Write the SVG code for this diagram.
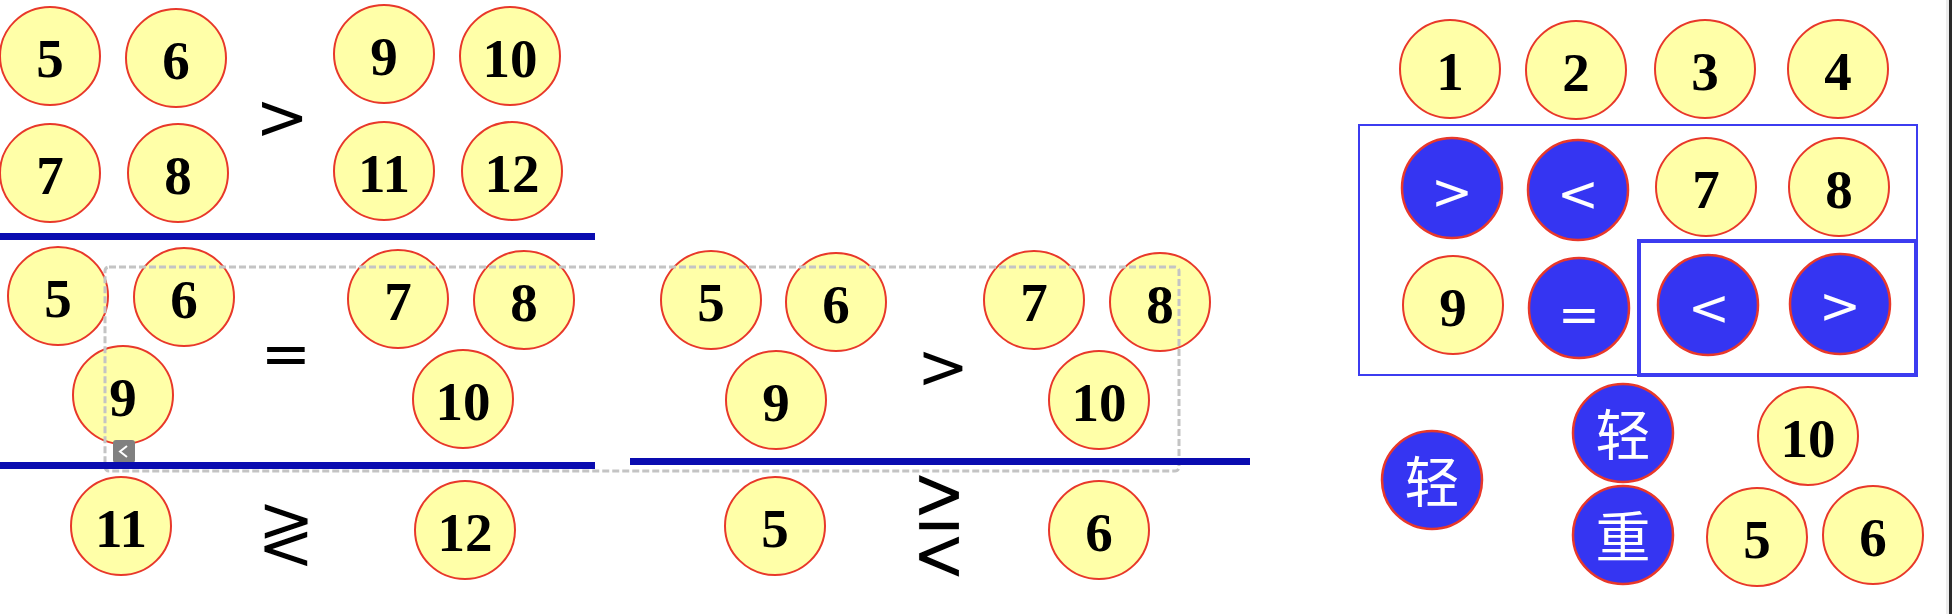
<svg xmlns="http://www.w3.org/2000/svg" width="1952" height="614" viewBox="0 0 1952 614">
<style>
.y{fill:#ffffa8;stroke:#e8382a;stroke-width:2}
.b{fill:#3535f2;stroke:#e8382a;stroke-width:2.5}
.n{font-family:"Liberation Serif","Times New Roman",serif;font-weight:bold;font-size:55px;fill:#000;text-anchor:middle}
.w{font-family:"DejaVu Sans",sans-serif;font-size:50px;fill:#fff;text-anchor:middle}
.c{font-family:"Noto Sans CJK SC","Noto Sans",sans-serif;font-size:55px;fill:#fff;text-anchor:middle}
.s{font-family:"DejaVu Sans",sans-serif;fill:#000;text-anchor:middle}
.t{stroke:#fff;stroke-width:1.5}
.rule{fill:#0a0cb0}
</style>
<rect width="1952" height="614" fill="#fff"/>

<g id="section1">
<g id="s1-5"><ellipse class="y" cx="50" cy="56" rx="50" ry="49"/><text class="n" x="50" y="77">5</text></g>
<g id="s1-6"><ellipse class="y" cx="176" cy="58" rx="50" ry="49"/><text class="n" x="176" y="79">6</text></g>
<g id="s1-9"><ellipse class="y" cx="384" cy="54" rx="50" ry="49"/><text class="n" x="384" y="75">9</text></g>
<g id="s1-10"><ellipse class="y" cx="510" cy="56" rx="50" ry="49"/><text class="n" x="510" y="77">10</text></g>
<g id="s1-7"><ellipse class="y" cx="50" cy="173" rx="50" ry="49"/><text class="n" x="50" y="194">7</text></g>
<g id="s1-8"><ellipse class="y" cx="178" cy="173" rx="50" ry="49"/><text class="n" x="178" y="194">8</text></g>
<g id="s1-11"><ellipse class="y" cx="384" cy="171" rx="50" ry="49"/><text class="n" x="384" y="192">11</text></g>
<g id="s1-12"><ellipse class="y" cx="512" cy="171" rx="50" ry="49"/><text class="n" x="512" y="192">12</text></g>
<g id="s1-gt"><text class="s" x="282" y="139" font-size="64">&gt;</text></g>
</g>

<g id="section2-left">
<g id="s2a-5"><ellipse class="y" cx="58" cy="296" rx="50" ry="49"/><text class="n" x="58" y="317">5</text></g>
<g id="s2a-6"><ellipse class="y" cx="184" cy="297" rx="50" ry="49"/><text class="n" x="184" y="318">6</text></g>
<g id="s2a-9"><ellipse class="y" cx="123" cy="395" rx="50" ry="49"/><text class="n" x="123" y="416">9</text></g>
<g id="s2a-7"><ellipse class="y" cx="398" cy="299" rx="50" ry="49"/><text class="n" x="398" y="320">7</text></g>
<g id="s2a-8"><ellipse class="y" cx="524" cy="300" rx="50" ry="49"/><text class="n" x="524" y="321">8</text></g>
<g id="s2a-10"><ellipse class="y" cx="463" cy="399" rx="50" ry="49"/><text class="n" x="463" y="420">10</text></g>
<g id="s2a-11"><ellipse class="y" cx="121" cy="526" rx="50" ry="49"/><text class="n" x="121" y="547">11</text></g>
<g id="s2a-12"><ellipse class="y" cx="465" cy="530" rx="50" ry="49"/><text class="n" x="465" y="551">12</text></g>
<g id="s2a-eq"><text class="s" x="286" y="374" font-size="60">=</text></g>
<g id="s2a-gl"><text class="s t" transform="translate(286,560) scale(0.85,1)" x="0" y="0" font-size="83">≷</text></g>
</g>

<g id="section2-right">
<g id="s2b-5"><ellipse class="y" cx="711" cy="300" rx="50" ry="49"/><text class="n" x="711" y="321">5</text></g>
<g id="s2b-6"><ellipse class="y" cx="836" cy="302" rx="50" ry="49"/><text class="n" x="836" y="323">6</text></g>
<g id="s2b-9"><ellipse class="y" cx="776" cy="400" rx="50" ry="49"/><text class="n" x="776" y="421">9</text></g>
<g id="s2b-7"><ellipse class="y" cx="1034" cy="300" rx="50" ry="49"/><text class="n" x="1034" y="321">7</text></g>
<g id="s2b-8"><ellipse class="y" cx="1160" cy="302" rx="50" ry="49"/><text class="n" x="1160" y="323">8</text></g>
<g id="s2b-10"><ellipse class="y" cx="1099" cy="400" rx="50" ry="49"/><text class="n" x="1099" y="421">10</text></g>
<g id="s2b-b5"><ellipse class="y" cx="775" cy="526" rx="50" ry="49"/><text class="n" x="775" y="547">5</text></g>
<g id="s2b-b6"><ellipse class="y" cx="1099" cy="530" rx="50" ry="49"/><text class="n" x="1099" y="551">6</text></g>
<g id="s2b-gt"><text class="s" x="943" y="388" font-size="62">&gt;</text></g>
<g id="s2b-gel"><text class="s t" transform="translate(939,556) scale(0.68,1)" x="0" y="0" font-size="96">⋛</text></g>
</g>

<g id="selection">
<rect x="105" y="267" width="1074" height="204" rx="4" fill="none" stroke="#c4c4c4" stroke-width="3" stroke-dasharray="7 3"/>
<rect x="113" y="440" width="22" height="23" rx="3" fill="#808080"/>
<polyline points="127,446 120,451.5 127,457" fill="none" stroke="#fff" stroke-width="2"/>
</g>

<g id="connectors">
<rect class="rule" x="0" y="233" width="595" height="7"/>
<rect class="rule" x="0" y="462" width="595" height="7"/>
<rect class="rule" x="630" y="458" width="620" height="7"/>
</g>

<g id="panel">
<rect x="1359" y="125" width="558" height="250" fill="none" stroke="#3c3cf0" stroke-width="2"/>
<rect x="1639" y="241" width="277" height="134" fill="none" stroke="#3c3cf0" stroke-width="4"/>
<g id="p-1"><ellipse class="y" cx="1450" cy="69" rx="50" ry="49"/><text class="n" x="1450" y="90">1</text></g>
<g id="p-2"><ellipse class="y" cx="1576" cy="70" rx="50" ry="49"/><text class="n" x="1576" y="91">2</text></g>
<g id="p-3"><ellipse class="y" cx="1705" cy="69" rx="50" ry="49"/><text class="n" x="1705" y="90">3</text></g>
<g id="p-4"><ellipse class="y" cx="1838" cy="69" rx="50" ry="49"/><text class="n" x="1838" y="90">4</text></g>
<g id="p-gt1"><ellipse class="b" cx="1452" cy="188" rx="50" ry="50"/><text class="w" x="1452" y="209">&gt;</text></g>
<g id="p-lt1"><ellipse class="b" cx="1578" cy="190" rx="50" ry="50"/><text class="w" x="1578" y="211">&lt;</text></g>
<g id="p-7"><ellipse class="y" cx="1706" cy="187" rx="50" ry="49"/><text class="n" x="1706" y="208">7</text></g>
<g id="p-8"><ellipse class="y" cx="1839" cy="187" rx="50" ry="49"/><text class="n" x="1839" y="208">8</text></g>
<g id="p-9"><ellipse class="y" cx="1453" cy="305" rx="50" ry="49"/><text class="n" x="1453" y="326">9</text></g>
<g id="p-eq"><ellipse class="b" cx="1579" cy="308" rx="50" ry="50"/><text class="w" x="1579" y="332" font-size="65">=</text></g>
<g id="p-lt2"><ellipse class="b" cx="1708" cy="305" rx="50" ry="50"/><text class="w" x="1709" y="325">&lt;</text></g>
<g id="p-gt2"><ellipse class="b" cx="1840" cy="304" rx="50" ry="50"/><text class="w" x="1840" y="323">&gt;</text></g>
<g id="p-light1"><ellipse class="b" cx="1432" cy="480" rx="50" ry="49"/><text class="c" x="1432" y="502">轻</text></g>
<g id="p-light2"><ellipse class="b" cx="1623" cy="433" rx="50" ry="49"/><text class="c" x="1623" y="455">轻</text></g>
<g id="p-heavy"><ellipse class="b" cx="1623" cy="535" rx="50" ry="49"/><text class="c" x="1623" y="557">重</text></g>
<g id="p-10"><ellipse class="y" cx="1808" cy="436" rx="50" ry="49"/><text class="n" x="1808" y="457">10</text></g>
<g id="p-5"><ellipse class="y" cx="1757" cy="537" rx="50" ry="49"/><text class="n" x="1757" y="558">5</text></g>
<g id="p-6"><ellipse class="y" cx="1873" cy="535" rx="50" ry="49"/><text class="n" x="1873" y="556">6</text></g>
</g>

<rect x="1946" y="0" width="3" height="614" fill="#ececec"/>
<rect x="1949" y="0" width="3" height="614" fill="#2a2a2a"/>
</svg>
